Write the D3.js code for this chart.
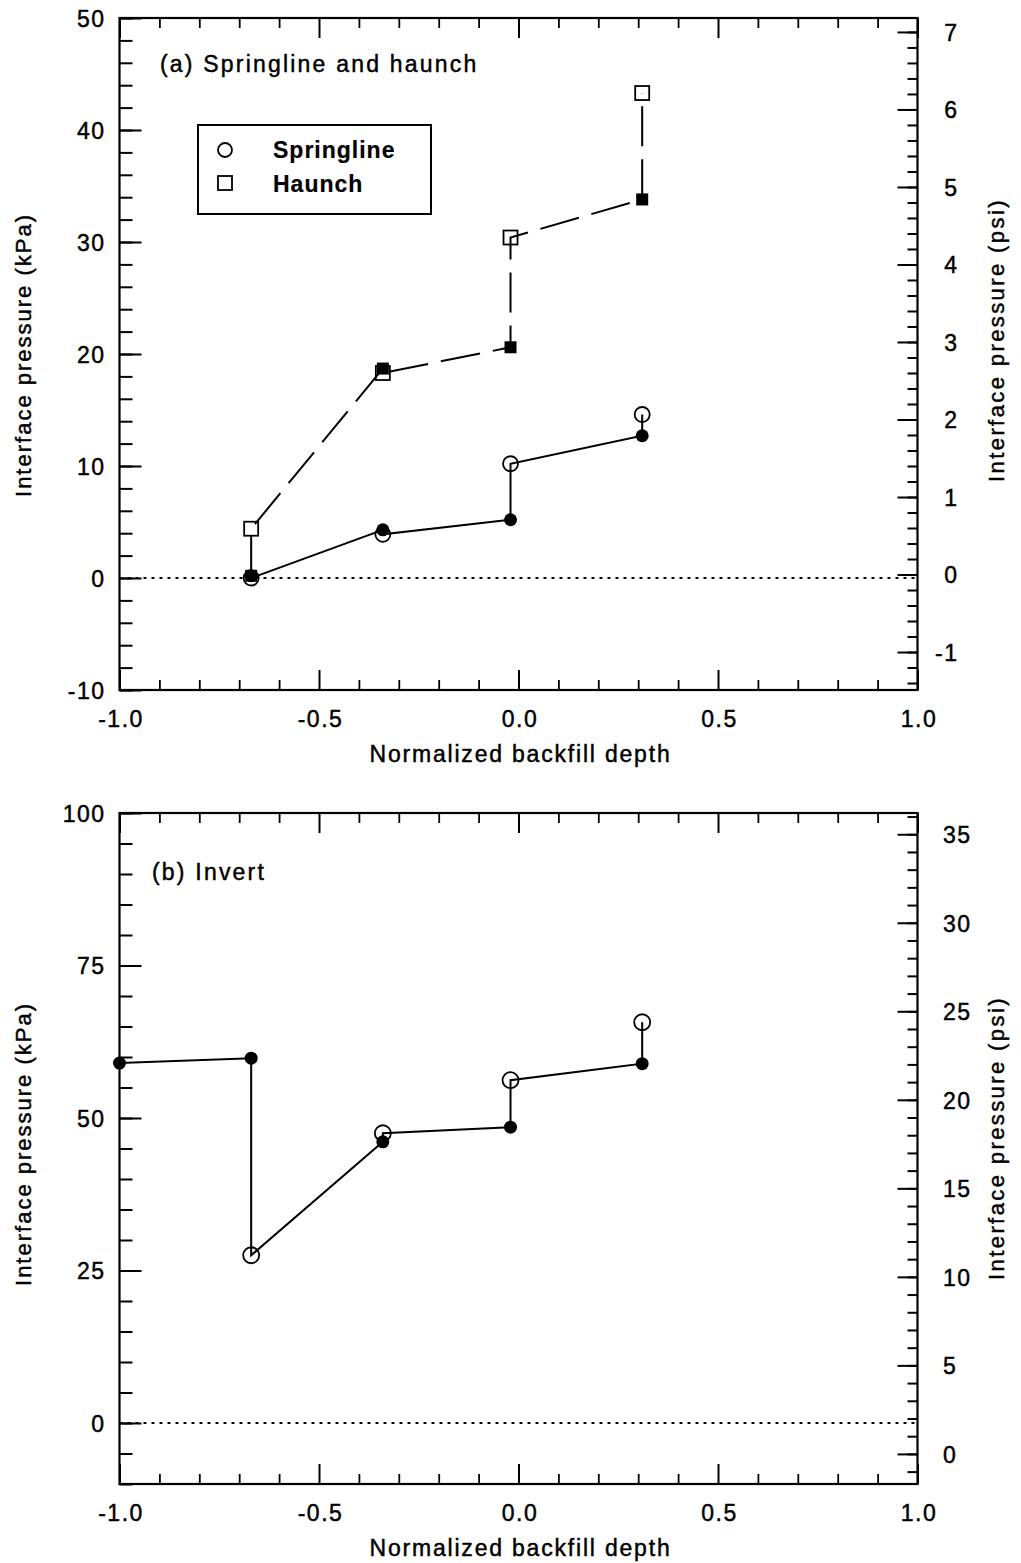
<!DOCTYPE html>
<html>
<head>
<meta charset="utf-8">
<script src="https://cdn.jsdelivr.net/npm/d3@7"></script>
<style>
  html, body { margin: 0; padding: 0; background: #fff; }
  svg { display: block; }
  text { font-family: "Liberation Sans", Arial, sans-serif; fill: #000; stroke: #000; stroke-width: 0.45px; }
</style>
</head>
<body>
<svg id="chart" width="1021" height="1563"></svg>
<script>
// ---- Data -------------------------------------------------------------
// (a) Springline and haunch: normalized backfill depth of each reading
const depthA = [-0.67, -0.34, -0.02, 0.31];
// filled marker = first reading at that depth, open marker = second reading (kPa)
const springFilled = [0.2, 4.3, 5.2, 12.7];
const springOpen   = [0.0, 3.9, 10.2, 14.6];
const haunchFilled = [0.2, 18.7, 20.6, 33.8];
const haunchOpen   = [4.4, 18.3, 30.4, 43.3];

// (b) Invert
const depthB = [-1.0, -0.67, -0.34, -0.02, 0.31];
const invertFilled = [59.0, 59.8, 46.1, 48.5, 58.9];
const invertOpen   = [null, 27.5, 47.5, 56.2, 65.7];

// Axis ticks and labels
const xTicks = [-1.0, -0.5, 0.0, 0.5, 1.0];
const xTickLabels = ["-1.0", "-0.5", "0.0", "0.5", "1.0"];
const kpaTicksA = [-10, 0, 10, 20, 30, 40, 50];
const psiTicksA = [-1, 0, 1, 2, 3, 4, 5, 6, 7];
const kpaTicksB = [0, 25, 50, 75, 100];
const psiTicksB = [0, 5, 10, 15, 20, 25, 30, 35];

const legendNames = ["Springline", "Haunch"];

// ---- Layout -------------------------------------------------------------
const svg = d3.select("#chart");
const X0 = 119.5, X1 = 917.5;
const x = d3.scaleLinear().domain([-1, 1]).range([X0, X1]);

function stripAxis(sel) {
  sel.attr("font-size", null).attr("font-family", null);
  sel.select(".domain").remove();
  sel.selectAll(".tick line").attr("stroke", "#000");
  return sel;
}

function drawPanel(p) {
  const g = svg.append("g");
  const y = d3.scaleLinear().domain(p.kpaDomain).range([p.bottom, p.top]);
  const yR = d3.scaleLinear().domain(p.psiDomain).range([p.bottom, p.top]);

  // minor tick positions
  const xMinor = d3.range(-10, 11).map(d => d / 10).filter(d => Math.abs(d * 2 - Math.round(d * 2)) > 1e-6);
  const kMinor = d3.range(p.kpaDomain[0], p.kpaDomain[1] + 1e-6, p.kpaMinor);
  const rMinor = d3.range(Math.ceil(p.psiDomain[0] / p.psiMinor) * p.psiMinor, p.psiDomain[1], p.psiMinor)
                   .map(d => +d.toFixed(3));

  // zero reference line
  g.append("line")
    .attr("x1", X0).attr("x2", X1)
    .attr("y1", y(0)).attr("y2", y(0))
    .attr("stroke", "#000").attr("stroke-width", 2)
    .attr("stroke-dasharray", "3,5");

  // bottom x axis
  stripAxis(g.append("g").attr("transform", `translate(0,${p.bottom})`)
    .call(d3.axisBottom(x).tickValues(xMinor).tickSize(-10).tickFormat("")))
    .selectAll(".tick line").attr("stroke-width", 1.8);
  const xb = stripAxis(g.append("g").attr("transform", `translate(0,${p.bottom})`)
    .call(d3.axisBottom(x).tickValues(xTicks).tickSize(-20)
      .tickFormat((d, i) => xTickLabels[i])));
  xb.selectAll(".tick line").attr("stroke-width", 2);
  xb.selectAll("text").attr("y", 37).attr("dy", null)
    .attr("font-size", 23).style("letter-spacing", "1.5px").attr("dx", 1);

  // top x axis (ticks only)
  stripAxis(g.append("g").attr("transform", `translate(0,${p.top})`)
    .call(d3.axisTop(x).tickValues(xMinor).tickSize(-10).tickFormat("")))
    .selectAll(".tick line").attr("stroke-width", 1.8);
  stripAxis(g.append("g").attr("transform", `translate(0,${p.top})`)
    .call(d3.axisTop(x).tickValues(xTicks).tickSize(-20).tickFormat("")))
    .selectAll(".tick line").attr("stroke-width", 2);

  // left kPa axis
  stripAxis(g.append("g").attr("transform", `translate(${X0},0)`)
    .call(d3.axisLeft(y).tickValues(kMinor).tickSize(-13).tickFormat("")))
    .selectAll(".tick line").attr("stroke-width", 2);
  const yl = stripAxis(g.append("g").attr("transform", `translate(${X0},0)`)
    .call(d3.axisLeft(y).tickValues(p.kpaTicks).tickSize(-22).tickFormat(d => String(d))));
  yl.selectAll(".tick line").attr("stroke-width", 2);
  yl.selectAll("text").attr("x", -14).attr("dy", "0.36em")
    .attr("font-size", 23).style("letter-spacing", "1.5px");

  // right psi axis
  stripAxis(g.append("g").attr("transform", `translate(${X1},0)`)
    .call(d3.axisRight(yR).tickValues(rMinor).tickSize(-10).tickFormat("")))
    .selectAll(".tick line").attr("stroke-width", 2);
  const yr = stripAxis(g.append("g").attr("transform", `translate(${X1},0)`)
    .call(d3.axisRight(yR).tickValues(p.psiTicks).tickSize(-20).tickFormat(d => String(d))));
  yr.selectAll(".tick line").attr("stroke-width", 2);
  yr.selectAll("text").attr("x", p.rightLabelX).attr("dy", "0.36em")
    .attr("text-anchor", p.rightAnchor)
    .attr("font-size", 23).style("letter-spacing", "1.5px");

  // frame
  g.append("rect")
    .attr("x", X0).attr("y", p.top)
    .attr("width", X1 - X0).attr("height", p.bottom - p.top)
    .attr("fill", "none").attr("stroke", "#000").attr("stroke-width", 2.2);

  // axis titles
  g.append("text")
    .attr("x", (X0 + X1) / 2 + 2).attr("y", p.bottom + 72)
    .attr("text-anchor", "middle").attr("font-size", 23)
    .style("letter-spacing", "1.8px")
    .text("Normalized backfill depth");
  g.append("text")
    .attr("transform", `translate(31,${p.leftTitleY}) rotate(-90)`)
    .attr("text-anchor", "middle").attr("font-size", 22)
    .style("letter-spacing", "2px")
    .text("Interface pressure (kPa)");
  g.append("text")
    .attr("transform", `translate(1004,${p.rightTitleY}) rotate(-90)`)
    .attr("text-anchor", "middle").attr("font-size", 22)
    .style("letter-spacing", "2.4px")
    .text("Interface pressure (psi)");

  // panel label
  g.append("text")
    .attr("x", p.labelX).attr("y", p.labelY)
    .attr("font-size", 23).style("letter-spacing", "2.2px")
    .text(p.label);

  return { g, y };
}

// path through readings: at each depth the filled reading, then the open one
function seriesPoints(depth, filled, open) {
  const pts = [];
  depth.forEach((d, i) => {
    pts.push([d, filled[i]]);
    if (open[i] != null) pts.push([d, open[i]]);
  });
  return pts;
}

function drawSeries(g, y, depth, filled, open, o) {
  const line = d3.line().x(d => x(d[0])).y(d => y(d[1]));
  g.append("path")
    .attr("d", line(seriesPoints(depth, filled, open)))
    .attr("fill", "none").attr("stroke", "#000")
    .attr("stroke-width", 2)
    .attr("stroke-dasharray", o.dash || null);

  const openPts = depth.map((d, i) => [d, open[i]]).filter(d => d[1] != null);
  const filledPts = depth.map((d, i) => [d, filled[i]]);

  if (o.shape === "circle") {
    g.selectAll(null).data(openPts).join("circle")
      .attr("cx", d => x(d[0])).attr("cy", d => y(d[1]))
      .attr("r", o.rOpen).attr("fill", "none")
      .attr("stroke", "#000").attr("stroke-width", 1.8);
    g.selectAll(null).data(filledPts).join("circle")
      .attr("cx", d => x(d[0])).attr("cy", d => y(d[1]))
      .attr("r", o.rFilled).attr("fill", "#000");
  } else {
    g.selectAll(null).data(openPts).join("rect")
      .attr("x", d => x(d[0]) - o.sOpen / 2).attr("y", d => y(d[1]) - o.sOpen / 2)
      .attr("width", o.sOpen).attr("height", o.sOpen)
      .attr("fill", "none").attr("stroke", "#000").attr("stroke-width", 1.8);
    g.selectAll(null).data(filledPts).join("rect")
      .attr("x", d => x(d[0]) - o.sFilled / 2).attr("y", d => y(d[1]) - o.sFilled / 2)
      .attr("width", o.sFilled).attr("height", o.sFilled)
      .attr("fill", "#000");
  }
}

// ---- Panel (a) ------------------------------------------------------------
const A = drawPanel({
  top: 18, bottom: 690,
  kpaDomain: [-10, 50], kpaTicks: kpaTicksA, kpaMinor: 2,
  psiDomain: [-1.49, 7.18], psiTicks: psiTicksA, psiMinor: 0.2,
  rightLabelX: 41, rightAnchor: "end",
  leftTitleY: 355, rightTitleY: 340,
  label: "(a) Springline and haunch", labelX: 160, labelY: 72
});
drawSeries(A.g, A.y, depthA, haunchFilled, haunchOpen,
  { shape: "square", dash: "40,13", sOpen: 14, sFilled: 12 });
drawSeries(A.g, A.y, depthA, springFilled, springOpen,
  { shape: "circle", rOpen: 7.5, rFilled: 6.5 });

// legend
const leg = A.g.append("g");
leg.append("rect")
  .attr("x", 198).attr("y", 125).attr("width", 233).attr("height", 89)
  .attr("fill", "#fff").attr("stroke", "#000").attr("stroke-width", 2);
leg.append("circle").attr("cx", 225).attr("cy", 150).attr("r", 7)
  .attr("fill", "none").attr("stroke", "#000").attr("stroke-width", 1.8);
leg.append("rect").attr("x", 218).attr("y", 176).attr("width", 14).attr("height", 14)
  .attr("fill", "none").attr("stroke", "#000").attr("stroke-width", 1.8);
leg.selectAll("text.name").data(legendNames).join("text")
  .attr("class", "name")
  .attr("x", 273).attr("y", (d, i) => 158 + i * 34)
  .attr("font-size", 23).attr("font-weight", "bold")
  .style("letter-spacing", "1px").style("stroke-width", "0.2px")
  .text(d => d);

// ---- Panel (b) ------------------------------------------------------------
const B = drawPanel({
  top: 813, bottom: 1484,
  kpaDomain: [-10, 100], kpaTicks: kpaTicksB, kpaMinor: 5,
  psiDomain: [-1.7, 36.2], psiTicks: psiTicksB, psiMinor: 1,
  rightLabelX: 25.5, rightAnchor: "start",
  leftTitleY: 1144, rightTitleY: 1138,
  label: "(b) Invert", labelX: 152, labelY: 880
});
drawSeries(B.g, B.y, depthB, invertFilled, invertOpen,
  { shape: "circle", rOpen: 8, rFilled: 6.5 });
</script>
</body>
</html>
